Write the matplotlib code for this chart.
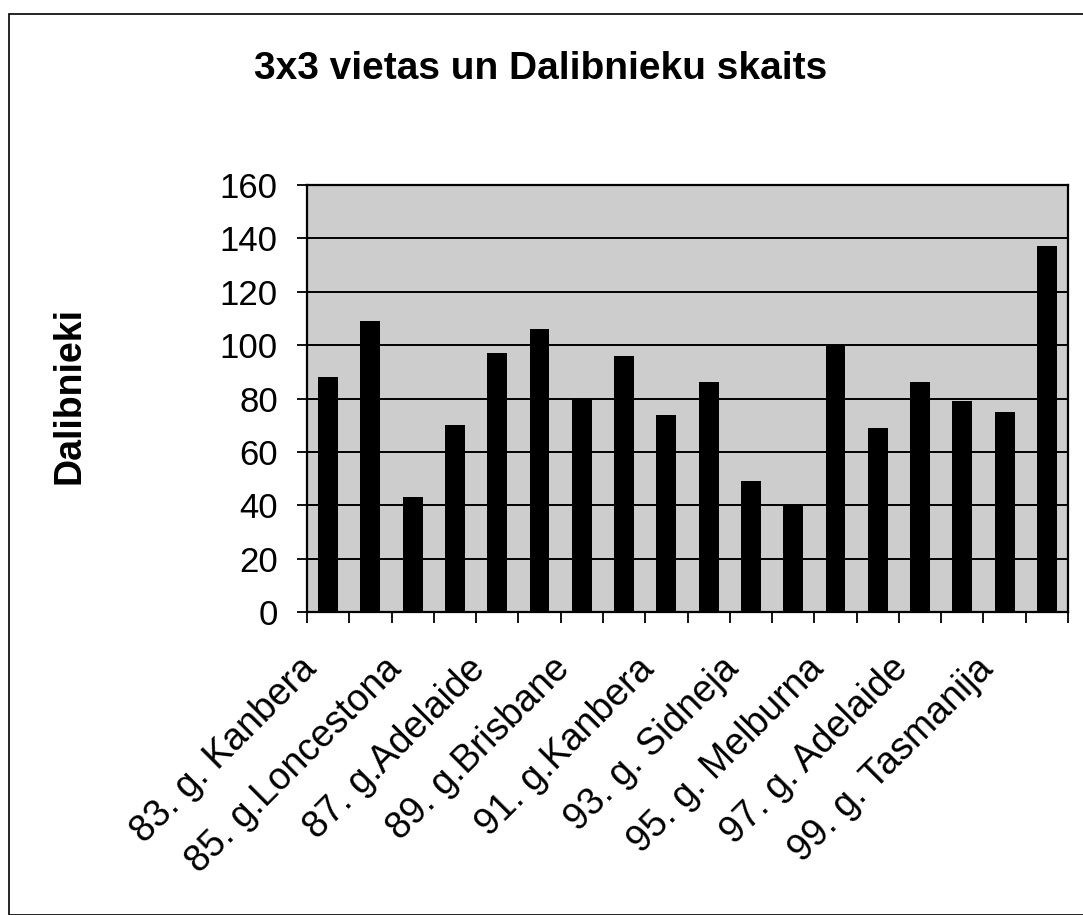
import numpy as np
import matplotlib
matplotlib.use("Agg")
import matplotlib.pyplot as plt
import matplotlib.transforms as mtransforms
from matplotlib.patches import Rectangle

plt.rcParams["font.family"] = ["Liberation Sans", "DejaVu Sans"]

# 3x3 nometnes pa gadiem un dalībnieku skaits
VALUES = [88, 109, 43, 70, 97, 106, 80, 96, 74,
          86, 49, 40, 100, 69, 86, 79, 75, 137]
TICK_LABELS = [
    "83. g. Kanbera",
    "85. g.Loncestona",
    "87. g.Adelaide",
    "89. g.Brisbane",
    "91. g.Kanbera",
    "93. g. Sidneja",
    "95. g. Melburna",
    "97. g. Adelaide",
    "99. g. Tasmanija",
]
Y_TICKS = [0, 20, 40, 60, 80, 100, 120, 140, 160]

W, H = 1083, 915
fig = plt.figure(figsize=(W / 100, H / 100), dpi=100)

# lapas rāmis
fig.patches.append(Rectangle((9 / W, 0), 1.2, (H - 14) / H, transform=fig.transFigure,
                             fill=False, edgecolor="black", linewidth=1.2))

left, right, top, bottom = 307, 1068, 185, 612
ax = fig.add_axes([left / W, 1 - bottom / H, (right - left) / W, (bottom - top) / H])
ax.set_facecolor("#cdcdcd")

x = np.arange(len(VALUES))
ax.bar(x, VALUES, width=0.47, color="black", zorder=3)

ax.set_xlim(-0.5, len(VALUES) - 0.5)
ax.set_ylim(0, 160)
ax.set_yticks(Y_TICKS)
ax.set_yticklabels([str(v) for v in Y_TICKS], fontsize=25)
ax.yaxis.grid(True, color="black", linewidth=1.4, zorder=1)
ax.tick_params(axis="y", length=7, width=1.3, pad=14)

# ķeksīši starp kategorijām, nosaukumi katrai otrajai
ax.set_xticks(np.arange(len(VALUES) + 1) - 0.5)
ax.set_xticklabels([])
ax.tick_params(axis="x", which="major", length=8, width=1.3, direction="out")
ax.set_xticks(x[::2], minor=True)
ax.set_xticklabels(TICK_LABELS, minor=True, rotation=45, ha="right", va="top",
                   rotation_mode="anchor", fontsize=27)
ax.tick_params(axis="x", which="minor", length=0, pad=28)
shift = mtransforms.ScaledTranslation(-0.3, 0, fig.dpi_scale_trans)
for lbl in ax.get_xticklabels(minor=True):
    lbl.set_transform(lbl.get_transform() + shift)

for side in ["left", "bottom", "top", "right"]:
    ax.spines[side].set_linewidth(1.6)
    ax.spines[side].set_color("black")

fig.text(541 / W, 1 - 69 / H, "3x3 vietas un Dalibnieku skaits", ha="center",
         va="center", fontsize=28, fontweight="bold")
fig.text(69 / W, 1 - 396 / H, "Dalibnieki", ha="center", va="center",
         rotation=90, fontsize=27, fontweight="bold")

fig.savefig("out.png", dpi=100, facecolor="white")
